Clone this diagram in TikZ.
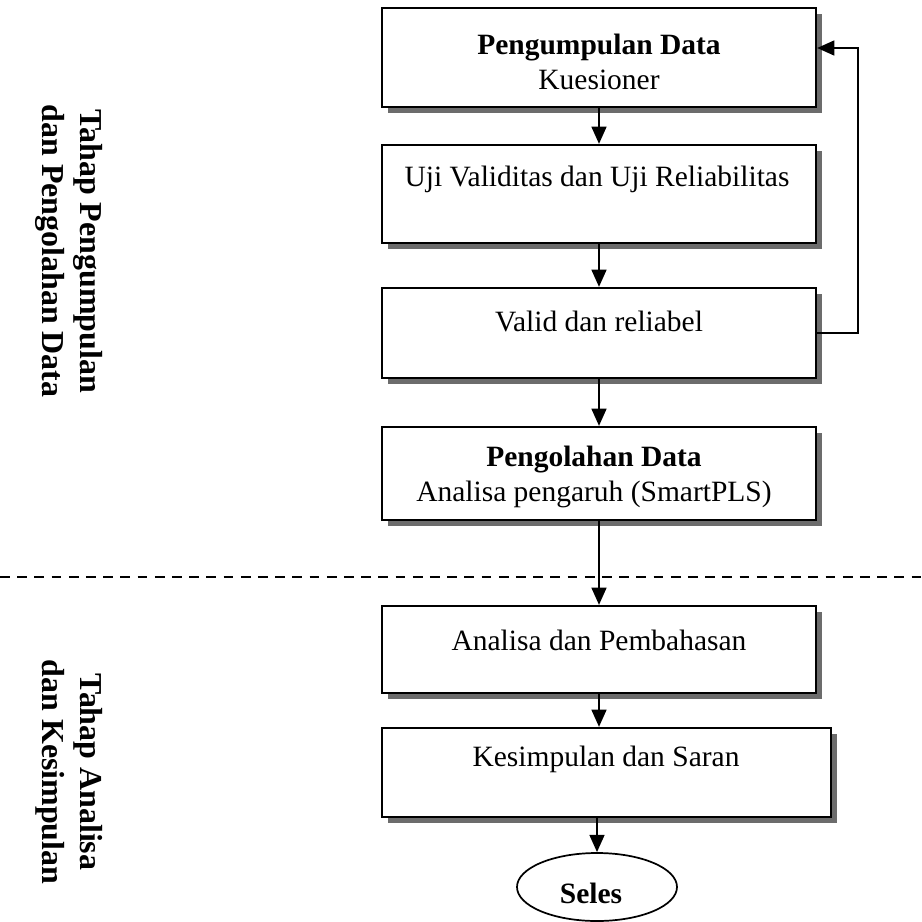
\documentclass[tikz,border=0pt]{standalone}
\usepackage{fontspec}
\setmainfont{Liberation Serif}
\usetikzlibrary{arrows.meta,shapes.geometric,shadows}

\def\px{0.407pt}
\tikzset{
  kotak/.style={draw, fill=white, line width=0.9pt, minimum width=434*\px,
    drop shadow={shadow xshift=2.4pt, shadow yshift=-2.4pt, fill=gray!85!black, opacity=1}},
  isi/.style={align=center, font=\fontsize{12}{14}\selectfont},
  panah/.style={line width=0.9pt, -{Triangle[width=6pt,length=7pt]}},
  tahap/.style={rotate=-90, align=center, font=\fontsize{13}{15.5}\selectfont\bfseries}
}

\begin{document}
\begin{tikzpicture}[x=\px, y=-\px]
\useasboundingbox (0,0) rectangle (922,922);
% Boxes
\node[kotak, minimum height=99*\px] (kumpul) at (599,57.5) {};
\node[kotak, minimum height=98*\px] (uji) at (599,194) {};
\node[kotak, minimum height=90*\px] (valid) at (599,333) {};
\node[kotak, minimum height=93*\px] (olah) at (599,473.5) {};
\node[kotak, minimum height=87*\px] (analisa) at (599,649.5) {};
\node[kotak, minimum height=89*\px, minimum width=449*\px] (simpul) at (606.5,772.5) {};
\node[draw, ellipse, line width=0.7pt, inner sep=0pt, minimum width=160*\px, minimum height=68*\px] (selesai) at (597,887) {};
% Texts
\node[isi] (kumpult) at (599,62) {\textbf{Pengumpulan Data}\\Kuesioner};
\node[isi] (ujit) at (597,179) {Uji Validitas dan Uji Reliabilitas};
\node[isi] (validt) at (599,321) {Valid dan reliabel};
\node[isi] (olaht) at (594,477) {\textbf{Pengolahan Data}\\Analisa pengaruh (SmartPLS)};
\node[isi] (analisat) at (599,640) {Analisa dan Pembahasan};
\node[isi] (simpult) at (606,759) {Kesimpulan dan Saran};
\node[isi] (selesait) at (591,893) {\textbf{Seles}};
% Side labels
\node[tahap] (tahap1) at (69,251) {Tahap Pengumpulan\\dan Pengolahan Data};
\node[tahap] (tahap2) at (69,772) {Tahap Analisa\\dan Kesimpulan};
% Lines
\draw[line width=0.8pt, dash pattern=on 4pt off 3pt] (0,577) -- (922,577);
\coordinate (balik) at (858,48);
\draw[panah] (kumpul) -- (uji);
\draw[panah] (uji) -- (valid);
\draw[panah] (valid) -- (olah);
\draw[panah] (olah) -- (analisa);
\draw[panah] (analisa.south) -- (analisa.south |- simpul.north);
\draw[panah] (simpul.south -| selesai.north) -- (selesai.north);
\draw[panah] (valid.east) -| (balik) -- (balik -| kumpul.east);
\end{tikzpicture}
\end{document}
